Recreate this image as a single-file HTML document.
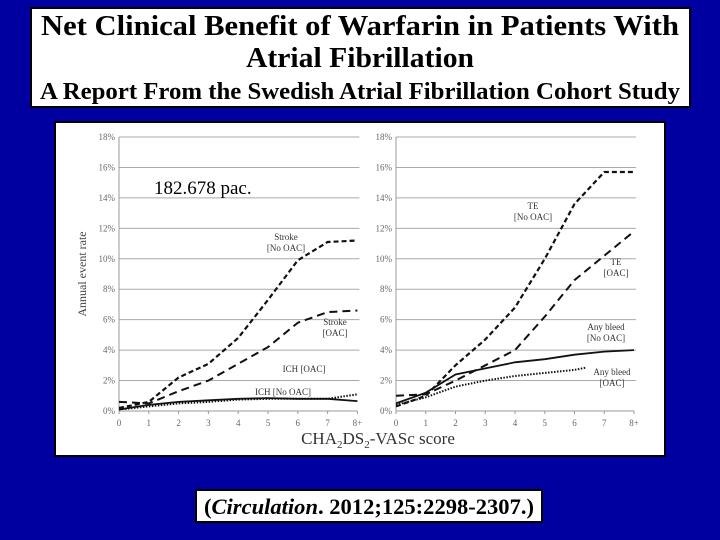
<!DOCTYPE html>
<html><head><meta charset="utf-8"><style>
body{margin:0;background:#0000a0;}
svg{display:block;}
text{font-family:"Liberation Serif",serif;}
</style></head><body>
<svg id="s" width="720" height="540" viewBox="0 0 720 540">
<rect x="0" y="0" width="720" height="540" fill="#0000a0"/>
<g>
<rect x="31" y="8" width="659" height="99" fill="#fff" stroke="#000" stroke-width="2"/>
<text x="360" y="35" text-anchor="middle" font-size="28" font-weight="bold" textLength="638" lengthAdjust="spacingAndGlyphs">Net Clinical Benefit of Warfarin in Patients With</text>
<text x="360" y="67" text-anchor="middle" font-size="28" font-weight="bold" textLength="228" lengthAdjust="spacingAndGlyphs">Atrial Fibrillation</text>
<text x="360" y="99" text-anchor="middle" font-size="24" font-weight="bold" textLength="640" lengthAdjust="spacingAndGlyphs">A Report From the Swedish Atrial Fibrillation Cohort Study</text>
</g>
<rect x="55" y="122" width="610" height="334" fill="#fff" stroke="#000" stroke-width="2"/>
<g id="plot"></g>
<text x="154" y="194" font-size="19">182.678 pac.</text>
<text x="86" y="274" font-size="12" fill="#444" text-anchor="middle" transform="rotate(-90 86 274)">Annual event rate</text>
<text x="378" y="444" font-size="17" fill="#333" text-anchor="middle">CHA<tspan font-size="11" dy="4">2</tspan><tspan dy="-4">DS</tspan><tspan font-size="11" dy="4">2</tspan><tspan dy="-4">-VASc score</tspan></text>
<g>
<rect x="196" y="490" width="346" height="32" fill="#fff" stroke="#000" stroke-width="2"/>
<text x="369" y="514" text-anchor="middle" font-size="22" font-weight="bold" textLength="330" lengthAdjust="spacingAndGlyphs">(<tspan font-style="italic">Circulation</tspan>. 2012;125:2298-2307.)</text>
</g>
</svg>
<script>
const xTicks = ["0","1","2","3","4","5","6","7","8+"];
const yTicks = [0,2,4,6,8,10,12,14,16,18];
const xsLeft = [0,1,2,3,4,5,6,7,8];
const strokeNoOac = [0.2,0.6,2.2,3.1,4.8,7.3,9.9,11.1,11.2];
const strokeOac = [0.6,0.5,1.3,2.0,3.1,4.2,5.8,6.5,6.6];
const ichOac = [0.1,0.4,0.6,0.7,0.8,0.85,0.8,0.8,0.65];
const ichNoOac = [0.1,0.3,0.5,0.6,0.75,0.8,0.8,0.8,1.1];
const xsRight = [0,1,2,3,4,5,6,7,8];
const teNoOac = [0.3,1.0,3.0,4.7,6.8,10.0,13.6,15.7,15.7];
const teOac = [1.0,1.1,2.0,3.0,4.0,6.2,8.6,10.2,11.8];
const bleedNoOac = [0.5,1.2,2.4,2.8,3.2,3.4,3.7,3.9,4.0];
const xsBleedOac = [0,1,2,3,4,5,6,6.4];
const bleedOac = [0.4,0.9,1.6,2.0,2.3,2.5,2.7,2.85];

const NS="http://www.w3.org/2000/svg";
const plot=document.getElementById('plot');
function mk(tag,attrs,parent){const e=document.createElementNS(NS,tag);for(const k in attrs)e.setAttribute(k,attrs[k]);(parent||plot).appendChild(e);return e;}
const Y0=411, Y1=137;
function yS(v){return Y0-(v/18)*(Y0-Y1);}
function panel(x0,step,name){
  const g=mk('g',{});
  
  
  const xS=v=>x0+v*step;
  yTicks.forEach(t=>{
    if(t>0){const l=mk('line',{x1:x0,x2:xS(8)+2,y1:yS(t),y2:yS(t),stroke:'#aaa','stroke-width':1},g);
      
      }
    const tx=mk('text',{x:x0-4,y:yS(t)+3,'font-size':9,fill:'#666','text-anchor':'end'},g);
    tx.textContent=t+'%';
    
    
  });
  const ax=mk('line',{x1:x0,x2:x0,y1:Y1,y2:Y0,stroke:'#999'},g);
  
  
  const bx=mk('line',{x1:x0,x2:xS(8),y1:Y0,y2:Y0,stroke:'#999'},g);
  
  
  xTicks.forEach((t,i)=>{
    mk('line',{x1:xS(i),x2:xS(i),y1:Y0,y2:Y0+3,stroke:'#999'},g);
    const tx=mk('text',{x:xS(i),y:Y0+15,'font-size':9,fill:'#666','text-anchor':'middle'},g);
    tx.textContent=t;
    
    
  });
  return {g,xS};
}
function series(p,xs,vals,dash,w,name){
  const d=xs.map((x,i)=>(i?'L':'M')+p.xS(x).toFixed(1)+','+yS(vals[i]).toFixed(1)).join(' ');
  const a={d:d,fill:'none',stroke:'#111','stroke-width':w};
  if(dash)a['stroke-dasharray']=dash;
  const e=mk('path',a,p.g);
  
  
}
function label(p,x,y,lines,name){
  lines.forEach((s,i)=>{
    const t=mk('text',{x:x,y:y+i*11,'font-size':9,fill:'#333','text-anchor':'middle'},p.g);
    t.textContent=s;
    
    
  });
}
const L=panel(119,29.8,'left-panel');
series(L,xsLeft,strokeNoOac,'5,3',2.2,'line-stroke-no-oac');
series(L,xsLeft,strokeOac,'8,5',2,'line-stroke-oac');
series(L,xsLeft,ichOac,null,1.8,'line-ich-oac');
series(L,xsLeft,ichNoOac,'1.5,1.5',2,'line-ich-no-oac');
label(L,286,240,['Stroke','[No OAC]'],'label-stroke-no-oac');
label(L,335,325,['Stroke','[OAC]'],'label-stroke-oac');
label(L,304,372,['ICH [OAC]'],'label-ich-oac');
label(L,283,395,['ICH [No OAC]'],'label-ich-no-oac');
const R=panel(396,29.75,'right-panel');
series(R,xsRight,teNoOac,'5,3',2.2,'line-te-no-oac');
series(R,xsRight,teOac,'8,5',2,'line-te-oac');
series(R,xsRight,bleedNoOac,null,1.8,'line-any-bleed-no-oac');
series(R,xsBleedOac,bleedOac,'1.5,1.5',2,'line-any-bleed-oac');
label(R,533,209,['TE','[No OAC]'],'label-te-no-oac');
label(R,616,265,['TE','[OAC]'],'label-te-oac');
label(R,606,330,['Any bleed','[No OAC]'],'label-any-bleed-no-oac');
label(R,612,375,['Any bleed','[OAC]'],'label-any-bleed-oac');
</script>
</body></html>
